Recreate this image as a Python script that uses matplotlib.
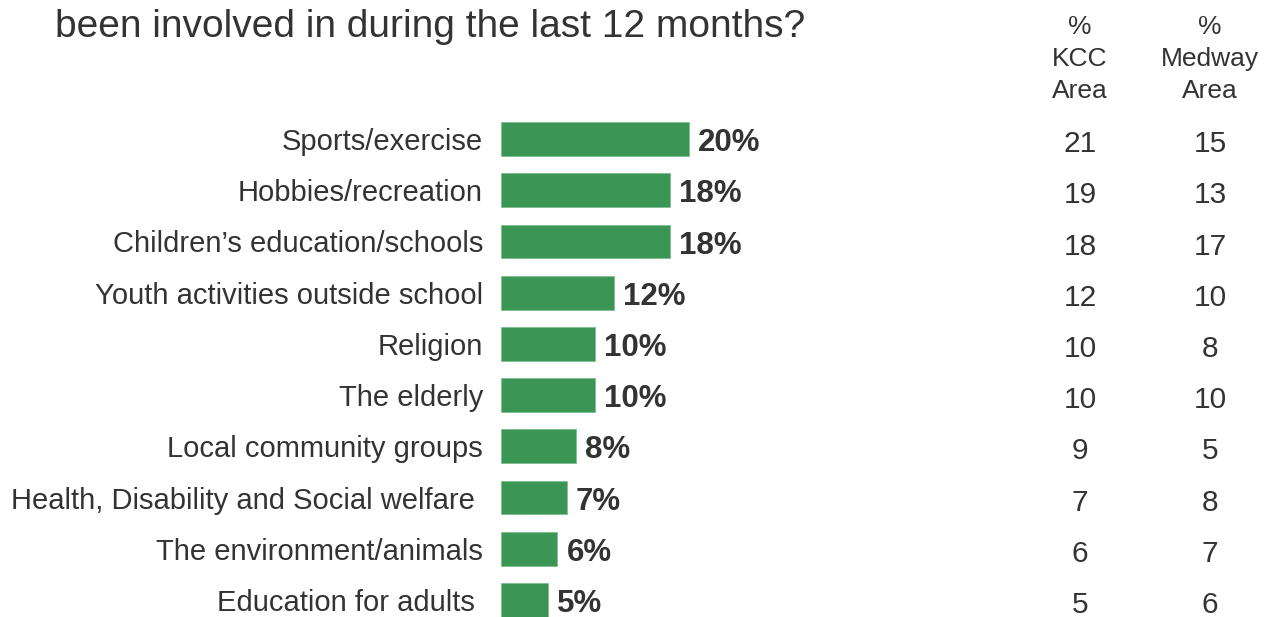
import matplotlib.pyplot as plt
from matplotlib.transforms import blended_transform_factory

plt.rcParams['font.family'] = ['Liberation Sans', 'DejaVu Sans']

categories = ['Sports/exercise', 'Hobbies/recreation', 'Children\u2019s education/schools',
              'Youth activities outside school', 'Religion', 'The elderly',
              'Local community groups', 'Health, Disability and Social welfare ',
              'The environment/animals', 'Education for adults ']
total = [20, 18, 18, 12, 10, 10, 8, 7, 6, 5]
kcc = [21, 19, 18, 12, 10, 10, 9, 7, 6, 5]
medway = [15, 13, 17, 10, 8, 10, 5, 8, 7, 6]

W, H = 1269, 617
fig = plt.figure(figsize=(W / 100, H / 100), dpi=100)

# bar axes: left edge 501px, ~9.4 px per percent
ax_left, ax_w = 501, 480
ax_top, ax_bot = 113.4, 625.6
ax = fig.add_axes([ax_left / W, 1 - ax_bot / H, ax_w / W, (ax_bot - ax_top) / H])
ypos = list(range(len(categories)))
ax.barh(ypos, total, height=0.66, color='#3b9656', edgecolor='#7fbf90', linewidth=0.6)
ax.set_xlim(0, ax_w / 9.4)
ax.set_ylim(len(categories) - 0.5, -0.5)
ax.set_yticks(ypos)
ax.set_yticklabels(categories, fontsize=21, color='#333333')
ax.tick_params(axis='y', length=0, pad=13)
ax.set_xticks([])
for s in ax.spines.values():
    s.set_visible(False)

for i, v in enumerate(total):
    ax.annotate(f'{v}%', (v, i), xytext=(6.5, -3), textcoords='offset points',
                ha='left', va='center', fontsize=22.5, fontweight='bold', color='#333333')

tr = blended_transform_factory(fig.transFigure, ax.transData)
for i in ypos:
    ax.text(1080 / W, i + 0.1, str(kcc[i]), transform=tr, ha='center', va='center',
            fontsize=21.5, color='#333333')
    ax.text(1210 / W, i + 0.1, str(medway[i]), transform=tr, ha='center', va='center',
            fontsize=21.5, color='#333333')

fig.text(1080 / W, 1 - 59 / H, '%\nKCC\nArea', ha='center', va='center',
         fontsize=19, color='#333333', linespacing=1.4)
fig.text(1210 / W, 1 - 59 / H, '%\nMedway\nArea', ha='center', va='center',
         fontsize=19, color='#333333', linespacing=1.4)

fig.text(55 / W, 1 - 27 / H, 'been involved in during the last 12 months?',
         ha='left', va='center', fontsize=28, color='#333333')

fig.savefig('out.png', dpi=100)
